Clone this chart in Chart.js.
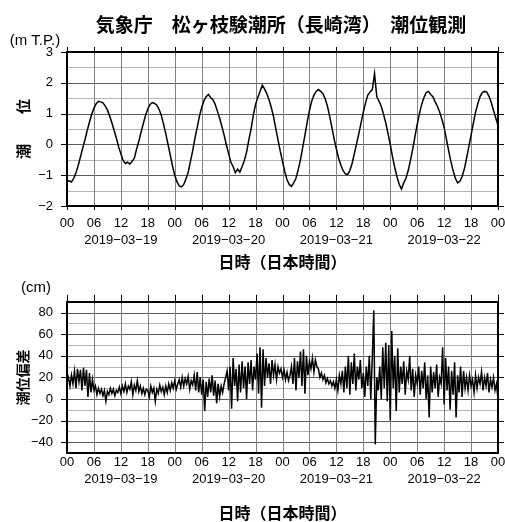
<!DOCTYPE html>
<html><head><meta charset="utf-8">
<script src="https://cdn.jsdelivr.net/npm/chart.js@4.4.1/dist/chart.umd.min.js"></script>
<style>
html,body{margin:0;padding:0;background:#fff;}
#wrap{position:relative;width:505px;height:522px;overflow:hidden;background:#fff;}
canvas{position:absolute;left:0;}
.t{position:absolute;white-space:nowrap;transform:translate(-50%,-50%);color:#000;line-height:1;}
.jp{font-family:"Noto Sans CJK JP",sans-serif;font-weight:bold;}
.en{font-family:"Liberation Sans",Arial,sans-serif;}
</style></head><body>
<div id="wrap">
<canvas id="c1" width="520" height="280" style="top:0"></canvas>
<canvas id="c2" width="520" height="242" style="top:280px"></canvas>
<div class="t jp" id="ttl" style="left:281px;top:23px;font-size:19px"></div>
<div class="t en" style="left:35px;top:39px;font-size:15px">(m T.P.)</div>
<div class="t en" style="left:36px;top:286px;font-size:15px">(cm)</div>
</div>
<script>
// ---- data ----
const HOURS = ["00", "06", "12", "18"];
const DATES = ["2019\u221203\u221219", "2019\u221203\u221220", "2019\u221203\u221221", "2019\u221203\u221222"];
const TITLE = "気象庁　松ヶ枝験潮所（長崎湾）　潮位観測";
const X_TITLE = "日時（日本時間）";
const TIDE_LABEL = "潮　　位";
const DEV_LABEL = "潮位偏差";
const TIDE_STEP_HOURS = 0.5;   // sampling interval of tide series
const DEV_STEP_HOURS = 1 / 3;  // sampling interval of deviation series

// observed tide level (m T.P.), every 30 min from 2019-03-19 00:00
const tide = [
  -1.20,-1.18,-1.22,-1.10,-0.92,-0.68,-0.40,-0.12,0.15,0.45,0.72,0.98,
  1.18,1.32,1.40,1.38,1.35,1.25,1.12,0.92,0.70,0.45,0.20,-0.08,
  -0.30,-0.52,-0.62,-0.58,-0.64,-0.55,-0.45,-0.15,0.10,0.40,0.68,0.95,
  1.15,1.30,1.36,1.33,1.28,1.14,0.95,0.66,0.35,0.00,-0.35,-0.70,
  -1.00,-1.22,-1.35,-1.38,-1.30,-1.12,-0.90,-0.55,-0.20,0.20,0.55,0.92,
  1.20,1.42,1.55,1.62,1.52,1.45,1.30,1.08,0.85,0.58,0.30,-0.02,
  -0.30,-0.58,-0.72,-0.92,-0.80,-0.90,-0.72,-0.52,-0.25,0.15,0.50,0.95,
  1.30,1.52,1.72,1.92,1.80,1.65,1.45,1.20,0.90,0.52,0.15,-0.22,
  -0.55,-0.88,-1.15,-1.30,-1.36,-1.25,-1.10,-0.82,-0.50,-0.10,0.30,0.72,
  1.10,1.40,1.60,1.72,1.78,1.72,1.65,1.48,1.25,0.92,0.55,0.18,
  -0.15,-0.45,-0.68,-0.85,-0.96,-0.98,-0.85,-0.62,-0.30,0.02,0.35,0.70,
  1.05,1.35,1.60,1.70,1.78,2.30,1.55,1.40,1.24,0.98,0.70,0.35,
  0.00,-0.40,-0.75,-1.05,-1.30,-1.45,-1.25,-1.10,-0.85,-0.52,-0.15,0.25,
  0.65,1.00,1.30,1.52,1.68,1.72,1.62,1.55,1.38,1.24,1.05,0.82,
  0.55,0.18,-0.20,-0.55,-0.85,-1.10,-1.25,-1.20,-1.05,-0.80,-0.45,-0.08,
  0.30,0.68,1.05,1.32,1.55,1.68,1.72,1.70,1.56,1.36,1.10,0.86,
  0.62
];

// tide deviation (cm), every 20 min from 2019-03-19 00:00
const deviation = [
  15,20,12, 22,14,26, 10,28,16, 27,8,29, 12,27,2, 24,6,18,
  8,12,4, 10,5,9, 3,8,-2, 7,4,10, 5,9,3, 8,6,11,
  5,12,7, 14,6,12, 9,16,4, 13,8,17, 7,12,5, 10,4,9,
  8,2,12, 6,10,-2, 9,5,13, 7,11,4, 12,6,14, 8,15,10,
  17,9,14, 18,11,20, 12,19,14, 21,9,17, 13,22,8, 25,6,20,
  4,18,-11, 16,2,19, 6,22,3, 17,-4,14, 2,12,6, 14,20,26,
  8,30,-9, 38,12,28, -2,32,6, 35,10,30, 0,34,14, 36,8,30,
  18,42,5, 48,-8,46, 12,38,20, 33,14,36, 22,32,18, 30,24,28,
  20,27,18, 25,17,22, 30,14,38, 8,35,20, 44,12,46, 5,40,22,
  35,28,38, 25,36,30, 28,20,24, 18,22,15, 19,14,17, 12,16,10,
  18,8,22, 14,26,6, 30,10,40, 4,34,14, 42,8,30, 18,36,10,
  24,2,30, 12,40,0, 38,82,-42, 20,8,30, 0,48,10, 52,-2,50,
  -20,63,10, 40,-11,47, 6,30,14, 35,4,26, 18,40,8, 28,2,22,
  14,30,4, 26,10,34, 0,22,-17, 30,6,25, 10,32,2, 20,14,48,
  -5,38,8, 30,-10,26, 4,34,-17, 22,6,30, 2,26,10, 20,8,22,
  12,18,6, 22,10,20, 14,25,8, 20,12,24, 6,18,11, 20,8,14,
  0
];

document.getElementById('ttl').textContent = TITLE;

// ---- helpers ----
const FONT = "'Liberation Sans', Arial, sans-serif";
const JP = "'Noto Sans CJK JP', sans-serif";
const fmtNum = v => (v < 0 ? "\u2212" + Math.abs(v) : String(v));
function xLabel(v) {
  const i = Math.round(v / 6);
  const lab = HOURS[i % 4];
  if (v % 24 === 12) return [lab, DATES[Math.floor(v / 24)]];
  return lab;
}
const toPts = (arr, step) => arr.map((y, i) => ({ x: i * step, y }));

// grid, tick marks and frame drawn from the chart's own scales
function gridPlugin(cfg) {
  const seg = (ctx, x1, y1, x2, y2) => { ctx.beginPath(); ctx.moveTo(x1, y1); ctx.lineTo(x2, y2); ctx.stroke(); };
  const al = p => Math.round(p) + 0.5;
  return {
    id: 'gmtGrid',
    beforeDatasetsDraw(chart) {
      const { ctx, chartArea: a, scales: { x, y } } = chart;
      ctx.save();
      ctx.lineWidth = 1;
      ctx.setLineDash([]);
      y.ticks.forEach(t => {
        const py = al(y.getPixelForValue(t.value));
        ctx.strokeStyle = cfg.isMajor(t.value) ? '#5a5a5a' : '#b4b4b4';
        seg(ctx, a.left, py, a.right, py);
      });
      ctx.strokeStyle = '#808080';
      x.ticks.forEach(t => {
        const px = al(x.getPixelForValue(t.value));
        seg(ctx, px, a.top, px, a.bottom);
      });
      ctx.restore();
    },
    afterDatasetsDraw(chart) {
      const { ctx, chartArea: a, scales: { x, y } } = chart;
      ctx.save();
      ctx.strokeStyle = '#000';
      ctx.lineWidth = 1;
      ctx.setLineDash([]);
      y.ticks.forEach(t => {
        if (!cfg.isMajor(t.value)) return;
        const py = al(y.getPixelForValue(t.value));
        seg(ctx, a.left - 6, py, a.left, py);
        seg(ctx, a.right, py, a.right + 6, py);
      });
      x.ticks.forEach(t => {
        const px = al(x.getPixelForValue(t.value));
        seg(ctx, px, a.top - cfg.topTickLen, px, a.top);
        if (cfg.xTickLen > 0) seg(ctx, px, a.bottom, px, a.bottom + cfg.xTickLen);
      });
      ctx.lineWidth = 2;
      ctx.strokeRect(Math.round(a.left), Math.round(a.top), Math.round(a.right) - Math.round(a.left), Math.round(a.bottom) - Math.round(a.top));
      ctx.restore();
    }
  };
}

function buildChart(canvas, cfg) {
  const isMajor = cfg.isMajor;
  return new Chart(canvas, {
    type: 'line',
    data: { datasets: [{ data: cfg.points, borderColor: '#000', borderWidth: 1.5, pointRadius: 0, tension: 0, fill: false }] },
    plugins: [gridPlugin(cfg)],
    options: {
      responsive: false, animation: false, events: [],
      layout: { padding: { top: cfg.padTop, right: 22, left: 0, bottom: 0 } },
      plugins: { legend: { display: false }, tooltip: { enabled: false } },
      scales: {
        x: {
          type: 'linear', position: 'bottom', min: 0, max: 96,
          afterFit: s => { s.height = cfg.xHeight; },
          ticks: { stepSize: 6, autoSkip: false, maxRotation: 0, padding: cfg.xTickPad, color: '#000',
                   font: { family: FONT, size: 13, lineHeight: '17px' }, callback: xLabel },
          grid: { display: false, drawTicks: false, tickLength: 0 },
          border: { display: false },
          title: { display: true, text: X_TITLE, color: '#000', font: { family: JP, size: 16, weight: 'bold', lineHeight: 1 }, padding: { top: 0, bottom: cfg.xTitlePad } }
        },
        y: {
          type: 'linear', position: 'left', min: cfg.yMin, max: cfg.yMax,
          afterFit: s => { s.width = 67; },
          ticks: { stepSize: cfg.yStep, autoSkip: false, padding: 14, color: '#000', font: { family: FONT, size: 13 },
                   callback: v => (isMajor(v) ? fmtNum(v) : '') },
          grid: { display: false, drawTicks: false, tickLength: 0 },
          border: { display: false },
          title: { display: true, text: cfg.yTitle, color: '#000', font: { family: JP, size: cfg.yTitleSize, weight: 'bold', lineHeight: 1 }, padding: { top: 23 - cfg.yTitleSize / 2, bottom: 0 } }
        }
      }
    }
  });
}

buildChart(document.getElementById('c1'), {
  points: toPts(tide, TIDE_STEP_HOURS),
  yMin: -2, yMax: 3, yStep: 0.5,
  isMajor: v => Math.abs(v - Math.round(v)) < 1e-6,
  padTop: 52, xHeight: 74, xTickPad: 8.5, xTickLen: 4, xTitlePad: 10, topTickLen: 5,
  yTitle: TIDE_LABEL, yTitleSize: 15
});

buildChart(document.getElementById('c2'), {
  points: toPts(deviation, DEV_STEP_HOURS),
  yMin: -50, yMax: 90, yStep: 10,
  isMajor: v => Math.round(v) % 20 === 0 && v > -50 && v < 90,
  padTop: 19, xHeight: 69, xTickPad: 0.5, xTickLen: 0, xTitlePad: 1, topTickLen: 7,
  yTitle: DEV_LABEL, yTitleSize: 14
});
</script>
</body></html>
